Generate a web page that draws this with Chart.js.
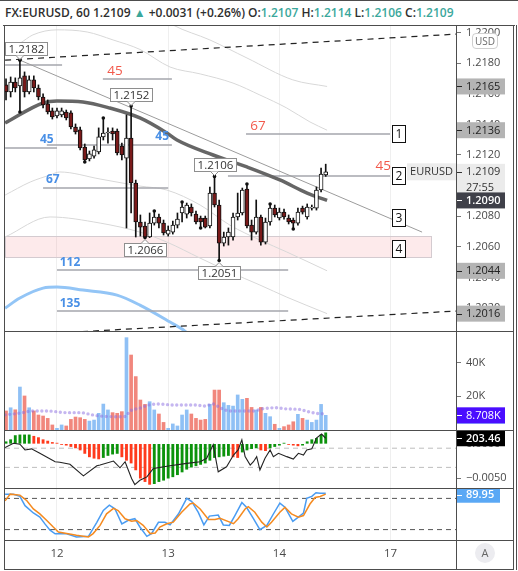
<!DOCTYPE html>
<html>
<head>
<meta charset="utf-8">
<title>FX:EURUSD, 60</title>
<script src="https://cdn.jsdelivr.net/npm/chart.js@4.4.1/dist/chart.umd.min.js"></script>
<style>
  body { margin: 0; background: #fff; }
  #wrap { position: relative; width: 518px; height: 571px; overflow: hidden; font-family: "Open Sans", sans-serif; }
  #wrap canvas { position: absolute; left: 0; }
  #head { position: absolute; left: 5px; top: 4px; font-size: 12px; font-weight: 600; color: #2e2e2e; white-space: nowrap; }
  #head .t { color: #3aa79b; }
  .ln { position: absolute; background: #4d4d4d; z-index: 5; }
  #usd { position: absolute; left: 472px; top: 33px; width: 24px; height: 14px; border: 1px solid #cfcfcf; border-radius: 4px; background: #fff;
         font-size: 10px; color: #6a6a6a; text-align: center; line-height: 14px; z-index: 6; }
  #auto { position: absolute; left: 475px; top: 543px; width: 20px; height: 20px; border-radius: 10px; background: #ececf0;
          font-size: 11px; color: #666; text-align: center; line-height: 20px; z-index: 6; }
</style>
</head>
<body>
<div id="wrap">
  <div id="head">FX:EURUSD, 60 1.2109 <span class="t">▲</span> +0.0031 (+0.26%) O:<span class="t">1.2107</span> H:<span class="t">1.2114</span> L:<span class="t">1.2106</span> C:<span class="t">1.2109</span></div>
  <canvas id="mainChart" width="513" height="305" style="top:26px"></canvas>
  <canvas id="volChart" width="513" height="99" style="top:331px"></canvas>
  <canvas id="macdChart" width="513" height="58" style="top:430px"></canvas>
  <canvas id="stochChart" width="513" height="80" style="top:488px"></canvas>
  <div class="ln" style="left:0;top:0;width:518px;height:1px"></div>
  <div class="ln" style="left:3px;top:25px;width:512px;height:1px"></div>
  <div class="ln" style="left:4px;top:25px;width:1px;height:545px"></div>
  <div class="ln" style="left:513px;top:25px;width:1px;height:545px"></div>
  <div class="ln" style="left:516px;top:25px;width:1px;height:545px"></div>
  <div class="ln" style="left:456px;top:25px;width:1px;height:545px"></div>
  <div class="ln" style="left:4px;top:331px;width:510px;height:1px"></div>
  <div class="ln" style="left:4px;top:430px;width:510px;height:1px"></div>
  <div class="ln" style="left:4px;top:488px;width:510px;height:1px"></div>
  <div class="ln" style="left:4px;top:540px;width:510px;height:1px"></div>
  <div class="ln" style="left:4px;top:569px;width:510px;height:1px"></div>
  <div id="usd">USD</div>
  <div id="auto">A</div>
</div>
<script>
// hourly bars, index 0 = day 12 00:00
const hours = [];
for (let h = -11; h <= 58; h++) hours.push(h);
const xMin = -11.22, xMax = 86.12;
const dayTicks = [0, 24, 48, 72];
const dayLabels = ["12", "13", "14", "17"];
const priceTicks = [1.2020, 1.2040, 1.2060, 1.2080, 1.2100, 1.2120, 1.2140, 1.2160, 1.2180, 1.2200];

const openP = [
  1.21658, 1.21612, 1.21677, 1.21651, 1.21717, 1.21612, 1.21691, 1.21638, 1.21579, 1.21534,
  1.21488, 1.21455, 1.21462, 1.21481, 1.21475, 1.21383, 1.21364, 1.21252, 1.21174, 1.21193,
  1.21220, 1.21318, 1.21344, 1.21357, 1.21357, 1.21259, 1.21180, 1.21311, 1.21017, 1.20762,
  1.20736, 1.20664, 1.20755, 1.20795, 1.20755, 1.20683, 1.20696, 1.20742, 1.20821, 1.20814,
  1.20860, 1.20814, 1.20788, 1.20788, 1.20736, 1.20951, 1.20873, 1.20624, 1.20664, 1.20664,
  1.20795, 1.20821, 1.20978, 1.20742, 1.20696, 1.20795, 1.20631, 1.20762, 1.20853, 1.20788,
  1.20827, 1.20788, 1.20775, 1.20755, 1.20853, 1.20795, 1.20853, 1.20853, 1.20971, 1.21070
];
const highP = [
  1.21697, 1.21710, 1.21704, 1.21820, 1.21743, 1.21717, 1.21717, 1.21658, 1.21599, 1.21560,
  1.21507, 1.21507, 1.21507, 1.21494, 1.21488, 1.21403, 1.21383, 1.21272, 1.21226, 1.21259,
  1.21377, 1.21442, 1.21377, 1.21377, 1.21370, 1.21278, 1.21462, 1.21520, 1.21036, 1.20808,
  1.20762, 1.20821, 1.20834, 1.20814, 1.20775, 1.20736, 1.20768, 1.20821, 1.20893, 1.20886,
  1.20880, 1.20834, 1.20801, 1.20801, 1.20991, 1.21060, 1.20906, 1.20696, 1.20723, 1.20821,
  1.20951, 1.20984, 1.21010, 1.20775, 1.20906, 1.20808, 1.20788, 1.20880, 1.20873, 1.20853,
  1.20847, 1.20808, 1.20788, 1.20853, 1.20866, 1.20880, 1.20873, 1.20991, 1.21115, 1.21140
];
const lowP = [
  1.21560, 1.21579, 1.21612, 1.21481, 1.21579, 1.21599, 1.21612, 1.21560, 1.21507, 1.21468,
  1.21435, 1.21442, 1.21449, 1.21429, 1.21370, 1.21337, 1.21233, 1.21154, 1.21161, 1.21180,
  1.21207, 1.21298, 1.21278, 1.21298, 1.21200, 1.21167, 1.20723, 1.20821, 1.20664, 1.20670,
  1.20660, 1.20660, 1.20742, 1.20723, 1.20677, 1.20670, 1.20683, 1.20723, 1.20762, 1.20788,
  1.20801, 1.20749, 1.20723, 1.20723, 1.20723, 1.20860, 1.20510, 1.20605, 1.20611, 1.20644,
  1.20775, 1.20808, 1.20723, 1.20644, 1.20683, 1.20611, 1.20618, 1.20742, 1.20795, 1.20775,
  1.20781, 1.20749, 1.20716, 1.20742, 1.20814, 1.20781, 1.20840, 1.20840, 1.20958, 1.21060
];
const closeP = [
  1.21612, 1.21677, 1.21638, 1.21704, 1.21612, 1.21691, 1.21638, 1.21579, 1.21527, 1.21481,
  1.21449, 1.21488, 1.21488, 1.21442, 1.21383, 1.21350, 1.21246, 1.21167, 1.21207, 1.21233,
  1.21318, 1.21344, 1.21350, 1.21337, 1.21213, 1.21200, 1.21311, 1.21017, 1.20762, 1.20729,
  1.20664, 1.20755, 1.20795, 1.20755, 1.20690, 1.20709, 1.20742, 1.20781, 1.20860, 1.20873,
  1.20821, 1.20762, 1.20762, 1.20729, 1.20951, 1.20873, 1.20624, 1.20664, 1.20696, 1.20795,
  1.20821, 1.20971, 1.20736, 1.20696, 1.20795, 1.20631, 1.20762, 1.20853, 1.20808, 1.20827,
  1.20795, 1.20762, 1.20755, 1.20827, 1.20827, 1.20860, 1.20860, 1.20971, 1.21076, 1.21090
];
const pivotHighs = [-8, 10, 16, 21, 27, 34, 41, 46];
const pivotLows = [-8, 6, 19, 31, 35, 51];
const pivotLabels = [[-8, "high"], [16, "high"], [34, "high"], [19, "low"], [35, "low"]];

// moving average and bands, read at chosen bars
const maLine = [[-11.2, 1.21409], [-3, 1.21540], [0, 1.21553], [5.6, 1.21547], [11.4, 1.21507], [17.9, 1.21442],
  [23.7, 1.21344], [25.9, 1.21298], [33.7, 1.21200], [41, 1.21122], [48.1, 1.21037], [54, 1.20951], [58.3, 1.20903]];
const bandOuterUp = [[-11.2, 1.22155], [-1.5, 1.22286], [9.3, 1.22273], [17.9, 1.22194], [25, 1.22050], [33, 1.21952],
  [41, 1.21834], [50.9, 1.21691], [58.3, 1.21648]];
const bandInnerUp = [[-11.2, 1.21880], [-8, 1.21930], [-5.2, 1.21985], [0, 1.22018], [6.5, 1.22004], [12.1, 1.21952],
  [17.9, 1.21890], [24.4, 1.21775], [30.9, 1.21730], [38, 1.21670], [43.8, 1.21592], [49.6, 1.21507], [54.6, 1.21416], [58.3, 1.21362]];
const bandInnerDown = [[-11.2, 1.20938], [-5.8, 1.21023], [-1.5, 1.21069], [0.6, 1.21089], [9.3, 1.21043], [17.9, 1.20997],
  [23.7, 1.20971], [30.9, 1.20873], [37.3, 1.20742], [43.8, 1.20644], [49.6, 1.20566], [58.3, 1.20443]];
const bandOuterDown = [[-11.2, 1.20664], [-1.5, 1.20795], [9.3, 1.20755], [17.9, 1.20696], [23.7, 1.20631], [30.9, 1.20526],
  [37.3, 1.20435], [43.8, 1.20350], [49.6, 1.20271], [58.3, 1.20163]];
const slowLine = [[-11.2, 1.20199], [-8, 1.20265], [-3, 1.20330], [0, 1.20337], [5.6, 1.20317], [12.95, 1.20284],
  [17.9, 1.20219], [24.4, 1.20108], [27.6, 1.20049], [30.9, 1.19957]];

// drawings on the price pane
const trendTop = [[-11.2, 1.2182], [86.12, 1.2199]];
const trendBottom = [[-11.2, 1.20018], [86.12, 1.2018]];
const trendDown = [[-8, 1.2182], [78.8, 1.20696]];
const levelSegments = [[-11.2, 1.1, 1.21789], [9.9, 24.8, 1.21697], [-11.2, 0, 1.21246], [-2.2, 24.8, 1.21265],
  [-3, 24, 1.20984], [40.8, 71.9, 1.21337], [36.9, 71.9, 1.21063], [0, 49.9, 1.20448], [0, 49.9, 1.20180]];
const levelTexts = [["45", 12.5, 1.21749, "red"], ["45", -2.2, 1.21298, "blue"], ["45", 22.7, 1.21318, "blue"],
  ["67", -0.9, 1.21037, "blue"], ["67", 43.4, 1.2139, "red"], ["45", 70.4, 1.21128, "red"],
  ["112", 2.8, 1.2050, "blue"], ["135", 2.8, 1.20232, "blue"]];
const zone = [-11.22, 80.7, 1.20670, 1.20533];
const marks = [["1", 73.8, 1.21337], ["2", 73.8, 1.21063], ["3", 73.8, 1.20788], ["4", 73.8, 1.20585]];

// volume pane (thousands)
const volumeK = [
  11.3, 13.2, 12.0, 25.5, 20.2, 13.2, 11.3, 8.9, 8.3, 6.9,
  3.0, 1.0, 3.0, 2.4, 6.3, 7.7, 7.3, 6.3, 5.3, 5.9,
  9.9, 15.4, 11.9, 10.3, 9.9, 10.9, 54.8, 44.5, 31.7, 17.8,
  15.2, 16.8, 11.9, 9.5, 4.5, 1.0, 3.6, 2.4, 8.9, 11.9,
  9.5, 6.9, 5.9, 6.3, 15.2, 23.7, 23.7, 16.2, 14.6, 14.2,
  20.8, 18.2, 18.8, 13.4, 11.9, 13.4, 9.9, 7.9, 3.4, 1.0,
  2.0, 3.0, 4.9, 9.3, 6.9, 5.9, 4.5, 5.9, 15.2, 8.708
];
const volumeAvgK = [[-11.2, 9.0], [-8, 10.0], [-5.1, 11.3], [-2.2, 11.3], [2.1, 10.3], [5, 10.3], [7.8, 8.9], [9.3, 8.3],
  [12.9, 7.9], [14.7, 8.0], [15.8, 11.3], [17.9, 13.0], [19.7, 14.8], [22.2, 15.4], [25.1, 14.8], [30.1, 14.8],
  [31.9, 14.2], [33.7, 15.4], [35.2, 13.2], [37.3, 11.3], [42.4, 11.3], [44.2, 12.5], [47.4, 13.2], [49.6, 12.5],
  [52.4, 12.2], [54.2, 10.9], [56, 9.9], [57.8, 9.5]];
const volTicks = [20, 40];

// oscillator pane: histogram and CCI
const histVals = [
  0.0003, 0.0006, 0.0012, 0.0013, 0.0013, 0.0013, 0.0011, 0.0009, 0.0006, 0.0004,
  0.0002, 0.0001, -0.0001, -0.0002, -0.0004, -0.0006, -0.0009, -0.0014, -0.0019, -0.0021,
  -0.0022, -0.0020, -0.0017, -0.0015, -0.0014, -0.0019, -0.0024, -0.0028, -0.0038, -0.0050,
  -0.0055, -0.0059, -0.0058, -0.0055, -0.0053, -0.0050, -0.0048, -0.0045, -0.0041, -0.0037,
  -0.0034, -0.0032, -0.0030, -0.0028, -0.0024, -0.0020, -0.0019, -0.0018, -0.0017, -0.0019,
  -0.0020, -0.0012, -0.0009, -0.0007, -0.0006, -0.0009, -0.0010, -0.0006, -0.0004, -0.0002,
  0.0001, -0.0001, -0.0002, -0.0003, -0.0002, 0.0003, 0.0006, 0.0008, 0.0013, 0.0016
];
const histTicks = [-0.005, 0];
const cciLine = [[-11.2, 106], [-9.4, 152], [-8, 142], [-6.9, 82], [-5.5, 93], [-3.7, 47], [-0.4, -41], [0.6, -47],
  [2.8, -68], [5.7, -188], [8.6, -83], [9.3, -76], [12.2, -34], [13.6, -104], [14.7, -41], [16.1, -216], [16.8, -279],
  [17.9, -234], [19.4, -199], [20.8, -111], [24.4, -83], [28, -58], [30.9, -41], [32.3, -5], [33.7, 135], [34.8, -146],
  [36.6, -94], [38.1, 29], [39.1, 82], [39.9, 187], [40.6, 12], [41.7, -76], [42.4, -41], [43.1, 12], [43.8, -128],
  [44.9, -5], [46, 82], [46.7, 12], [47.8, 47], [49.6, 12], [51, -13], [52.1, 47], [53.2, 29], [53.9, 82], [55, 93],
  [56, 205], [57.1, 247], [58, 203.46]];
const cciLevels = [100, -100];

// stochastic pane
const stochK = [[-11.2, 88], [-9.4, 88], [-8, 84], [-6.9, 66], [-5.1, 52], [-3.7, 44], [-2.6, 31], [-1.5, 19], [-0.4, 12],
  [2.1, 12], [4.2, 6], [6.8, 7], [8.6, 34], [10, 57], [11.3, 67], [12.5, 60], [14, 31], [15.4, 38], [16.8, 41], [17.9, 25],
  [19.4, 7], [20.4, 12], [21.9, 34], [23.3, 34], [24.4, 29], [26.2, 50], [28, 80], [29.1, 74], [30.5, 53], [31.7, 29],
  [32.9, 46], [34.8, 48], [35.9, 29], [37.2, 28], [38.4, 47], [39.9, 72], [40.9, 63], [42.4, 41], [43.8, 20], [45.3, 28],
  [46.7, 50], [48.1, 71], [49.2, 63], [50.9, 36], [52.1, 44], [53.2, 52], [53.9, 80], [55, 84], [55.9, 91], [56.8, 90],
  [58, 89.95]];
const stochD = [[-11.2, 75.5], [-10.1, 88.2], [-8, 86.3], [-6.5, 75.5], [-5.1, 59.7], [-3.7, 50.3], [-2.2, 37.6],
  [-0.8, 24.9], [0.3, 15.4], [2.1, 12.3], [4.2, 9.1], [6.8, 5.9], [7.8, 12.3], [9.3, 28.1], [10.7, 50.3], [12.2, 60.9],
  [13.2, 56.5], [14.7, 40.8], [16.1, 36.2], [17.2, 37.6], [18.6, 28.1], [20.1, 12.3], [21.2, 13.5], [22.2, 24.9],
  [23.7, 31.3], [25.1, 34.3], [26.9, 53.3], [28.7, 69.2], [29.4, 71.1], [30.9, 59.7], [32.7, 39.5], [34.1, 39.5],
  [35.2, 41.9], [37.3, 34.3], [38.1, 31.3], [39.1, 40.8], [40.6, 59.7], [41.3, 64.1], [42.7, 53.3], [44.2, 34.3],
  [45.3, 24.9], [46.3, 34.3], [48.1, 53.3], [49.2, 62.8], [50.6, 50.3], [52.1, 43.8], [53.2, 47.1], [54.6, 69.2],
  [55.7, 81.8], [56.8, 83.7], [58, 88.2]];
const stochLevels = [80, 20];

Chart.defaults.font.family = '"Open Sans", sans-serif';
Chart.defaults.animation = false;

const pts = arr => arr.map(p => ({ x: p[0], y: p[1] }));
const flat = v => [{ x: xMin, y: v }, { x: xMax, y: v }];
const isUp = hours.map((h, k) => closeP[k] >= openP[k]);
const last = arr => arr[arr.length - 1][1];

function xAxis(showLabels) {
  return {
    type: "linear", min: xMin, max: xMax, bounds: "data", offset: false,
    afterBuildTicks: s => { s.ticks = dayTicks.map(v => ({ value: v })); },
    afterFit: s => { s.height = showLabels ? 28 : 0; s.paddingLeft = 0; s.paddingRight = 0; },
    grid: { color: "#efefef", drawTicks: false, offset: false },
    border: { display: false },
    ticks: {
      display: showLabels, color: "#4a4a4a", padding: 7, font: { size: 11.5 },
      callback: v => dayLabels[dayTicks.indexOf(v)]
    }
  };
}
function rightAxis(extra) {
  return Object.assign({
    position: "right", bounds: "data",
    // fixed axis width, and no extra room for the end labels so panes keep their exact height
    afterFit: s => { s.width = 57; s.paddingTop = 0; s.paddingBottom = 0; },
    border: { display: false },
    grid: { drawOnChartArea: false, tickLength: 5, color: "#777" },
    ticks: { color: "#4a4a4a", padding: 5, font: { size: 11 } }
  }, extra);
}
const baseOptions = {
  responsive: false,
  animation: false,
  layout: { autoPadding: false, padding: { left: 5, right: 0, top: 0, bottom: 0 } },
  plugins: { legend: { display: false }, tooltip: { enabled: false } }
};

function axisTag(ctx, a, yPix, lines, bg, fg, weight, w) {
  const x0 = a.right + 1;
  ctx.fillStyle = bg;
  ctx.fillRect(x0, yPix - 8, w || 48, 16 * lines.length);
  ctx.strokeStyle = fg;
  ctx.lineWidth = 1;
  ctx.beginPath();
  ctx.moveTo(x0, Math.round(yPix) + 0.5);
  ctx.lineTo(x0 + 5, Math.round(yPix) + 0.5);
  ctx.stroke();
  ctx.fillStyle = fg;
  ctx.font = (weight || "400") + ' 11px "Open Sans"';
  ctx.textAlign = "left";
  ctx.textBaseline = "middle";
  lines.forEach((t, k) => ctx.fillText(t, x0 + 9, yPix + 16 * k + 0.5));
}

// price pane drawings
const priceOverlay = {
  id: "priceOverlay",
  beforeDatasetsDraw(chart) {
    const { ctx, scales: { x, y } } = chart;
    const x0 = x.getPixelForValue(zone[0]), x1 = x.getPixelForValue(zone[1]);
    const y0 = y.getPixelForValue(zone[2]), y1 = y.getPixelForValue(zone[3]);
    ctx.save();
    ctx.fillStyle = "rgba(242,90,100,0.13)";
    ctx.fillRect(x0, y0, x1 - x0, y1 - y0);
    ctx.strokeStyle = "#d4cbd0";
    ctx.lineWidth = 1;
    ctx.strokeRect(Math.round(x0) + 0.5, Math.round(y0) + 0.5, Math.round(x1 - x0), Math.round(y1 - y0));
    ctx.restore();
  },
  afterDatasetsDraw(chart) {
    const { ctx, chartArea: a, scales: { x, y } } = chart;
    ctx.save();
    // level numbers
    levelTexts.forEach(([t, i, p, c]) => {
      ctx.font = c === "blue" ? '700 12px "Open Sans"' : '400 13.5px "Open Sans"';
      ctx.fillStyle = c === "blue" ? "#4a90e6" : "#f2594b";
      ctx.textAlign = "center";
      ctx.textBaseline = "middle";
      ctx.fillText(t, x.getPixelForValue(i), y.getPixelForValue(p));
    });
    // pivot price labels
    ctx.font = '400 11.5px "Open Sans"';
    pivotLabels.forEach(([i, kind]) => {
      const k = hours.indexOf(i);
      const v = kind === "high" ? highP[k] : lowP[k];
      const t = v.toFixed(4);
      const px = x.getPixelForValue(i), py = y.getPixelForValue(v);
      const w = Math.round(ctx.measureText(t).width + 6), h = 13;
      const bx = Math.round(Math.max(a.left, Math.min(a.right - w, px - w / 2))) + 0.5;
      const by = Math.round(kind === "high" ? py - 5 - h : py + 5) + 0.5;
      const ty = kind === "high" ? by + h : by;
      const dir = kind === "high" ? 1 : -1;
      ctx.fillStyle = "#fff";
      ctx.strokeStyle = "#8e8e8e";
      ctx.lineWidth = 1;
      ctx.fillRect(bx, by, w, h);
      ctx.strokeRect(bx, by, w, h);
      ctx.beginPath();
      ctx.moveTo(px - 4, ty);
      ctx.lineTo(px, ty + dir * 4);
      ctx.lineTo(px + 4, ty);
      ctx.fill();
      ctx.stroke();
      ctx.fillStyle = "#333";
      ctx.textAlign = "center";
      ctx.textBaseline = "middle";
      ctx.fillText(t, bx + w / 2, by + h / 2 + 0.5);
    });
    // numbered marks
    marks.forEach(([t, i, p]) => {
      const cx = Math.round(x.getPixelForValue(i)), cy = Math.round(y.getPixelForValue(p));
      ctx.fillStyle = "#fff";
      ctx.fillRect(cx - 6.5, cy - 8.5, 13, 17);
      ctx.strokeStyle = "#111";
      ctx.strokeRect(cx - 6.5, cy - 8.5, 13, 17);
      ctx.fillStyle = "#111";
      ctx.font = '400 12px "Open Sans"';
      ctx.textAlign = "center";
      ctx.textBaseline = "middle";
      ctx.fillText(t, cx, cy + 0.5);
    });
    // symbol tag on the last price
    const lastClose = closeP[closeP.length - 1];
    const ly = y.getPixelForValue(lastClose);
    ctx.fillStyle = "#ececec";
    ctx.fillRect(a.right - 49, ly - 8.5, 49, 17);
    ctx.fillStyle = "#333";
    ctx.font = '400 11px "Open Sans"';
    ctx.textAlign = "center";
    ctx.fillText("EURUSD", a.right - 24.5, ly + 0.5);
    // axis tags
    const gray = "#b4b4b4";
    axisTag(ctx, a, y.getPixelForValue(last(bandOuterUp)), [last(bandOuterUp).toFixed(4)], gray, "#222");
    axisTag(ctx, a, y.getPixelForValue(last(bandInnerUp)), [last(bandInnerUp).toFixed(4)], gray, "#222");
    axisTag(ctx, a, y.getPixelForValue(last(bandInnerDown)), [last(bandInnerDown).toFixed(4)], gray, "#222");
    axisTag(ctx, a, y.getPixelForValue(last(bandOuterDown)), [last(bandOuterDown).toFixed(4)], gray, "#222");
    axisTag(ctx, a, ly, [lastClose.toFixed(4), "27:55"], "#ebebeb", "#333");
    axisTag(ctx, a, y.getPixelForValue(last(maLine)), [last(maLine).toFixed(4)], "#3f4049", "#fff", "600");
    ctx.restore();
  }
};

const lineDs = (data, color, width, extra) => Object.assign({
  type: "line", data: pts(data), borderColor: color, borderWidth: width,
  pointRadius: 0, fill: false, cubicInterpolationMode: "monotone", order: 5
}, extra);

const priceDatasets = [
  { type: "bar", data: hours.map((h, k) => ({ x: h, y: [openP[k], closeP[k]] })),
    backgroundColor: isUp.map(u => (u ? "#ffffff" : "#7a1a1a")), borderColor: "#111", borderWidth: 1,
    borderSkipped: false, barThickness: 4, minBarLength: 1, grouped: false, order: 0 },
  { type: "bar", data: hours.map((h, k) => ({ x: h, y: [lowP[k], highP[k]] })),
    backgroundColor: "#111", barThickness: 1, grouped: false, order: 1 },
  { type: "line", data: pivotHighs.map(i => ({ x: i, y: highP[hours.indexOf(i)] }))
      .concat(pivotLows.map(i => ({ x: i, y: lowP[hours.indexOf(i)] }))),
    showLine: false, pointRadius: 1.8, pointBackgroundColor: "#111", pointBorderWidth: 0, order: 0 },
  lineDs(maLine, "#666666", 3.5, { order: 2 }),
  lineDs(bandOuterUp, "#d8d8d8", 1),
  lineDs(bandInnerUp, "#d8d8d8", 1),
  lineDs(bandInnerDown, "#d8d8d8", 1),
  lineDs(bandOuterDown, "#d8d8d8", 1),
  lineDs(slowLine, "#93c5f6", 3),
  lineDs(trendTop, "#222", 1.2, { borderDash: [6, 5], cubicInterpolationMode: "default", order: 3 }),
  lineDs(trendBottom, "#222", 1.2, { borderDash: [6, 5], cubicInterpolationMode: "default", order: 3 }),
  lineDs(trendDown, "#9c9c9c", 1, { cubicInterpolationMode: "default", order: 3 })
].concat(levelSegments.map(s => lineDs([[s[0], s[2]], [s[1], s[2]]], "#a4a6ad", 1.5,
  { cubicInterpolationMode: "default", order: 4 })));

const yTop = 1.220431, yBottom = 1.200496;
new Chart(document.getElementById("mainChart"), {
  type: "line",
  data: { datasets: priceDatasets },
  options: Object.assign({}, baseOptions, {
    scales: {
      x: xAxis(false),
      y: rightAxis({
        type: "linear", min: yBottom, max: yTop,
        afterBuildTicks: s => { s.ticks = priceTicks.map(v => ({ value: v })); },
        ticks: { color: "#4a4a4a", padding: 5, font: { size: 11 }, callback: v => v.toFixed(4) }
      })
    }
  }),
  plugins: [priceOverlay]
});

// volume pane
new Chart(document.getElementById("volChart"), {
  type: "line",
  data: {
    datasets: [
      { type: "line", data: pts(volumeAvgK), borderColor: "rgba(140,110,225,0.5)", borderWidth: 3.4,
        borderDash: [0, 4.63], borderCapStyle: "round", pointRadius: 0, cubicInterpolationMode: "monotone", order: 0 },
      { type: "bar", data: hours.map((h, k) => ({ x: h, y: volumeK[k] })),
        backgroundColor: isUp.map(u => (u ? "#8fc0f5" : "#f1877d")), barThickness: 3, grouped: false, order: 1 }
    ]
  },
  options: Object.assign({}, baseOptions, {
    scales: {
      x: xAxis(false),
      y: rightAxis({
        type: "linear", min: 0, max: 58.75,
        afterBuildTicks: s => { s.ticks = volTicks.map(v => ({ value: v })); },
        ticks: { color: "#4a4a4a", padding: 5, font: { size: 11 }, callback: v => v + "K" }
      })
    }
  }),
  plugins: [{
    id: "volTag",
    afterDatasetsDraw(chart) {
      const { ctx, chartArea: a, scales: { y } } = chart;
      const v = volumeK[volumeK.length - 1];
      const py = y.getPixelForValue(v);
      ctx.save();
      ctx.fillStyle = "#8cb6f8";
      ctx.fillRect(a.right + 1, py + 6, 48, 2.5);
      axisTag(ctx, a, py, [v.toFixed(3) + "K"], "#4a0dff", "#fff");
      ctx.restore();
    }
  }]
});

// histogram + CCI pane
new Chart(document.getElementById("macdChart"), {
  type: "line",
  data: {
    datasets: [
      { type: "line", data: pts(cciLine), yAxisID: "y2", borderColor: "#222", borderWidth: 1.1, pointRadius: 0, order: 0 },
      { type: "line", data: flat(cciLevels[0]), yAxisID: "y2", borderColor: "#bdbdbd", borderWidth: 1, borderDash: [5, 4], pointRadius: 0, order: 3 },
      { type: "line", data: flat(cciLevels[1]), yAxisID: "y2", borderColor: "#bdbdbd", borderWidth: 1, borderDash: [5, 4], pointRadius: 0, order: 3 },
      { type: "bar", data: hours.map((h, k) => ({ x: h, y: histVals[k] })), yAxisID: "y",
        backgroundColor: histVals.map((v, k) => (k === 0 || v >= histVals[k - 1] ? "#0c930c" : "#ff3a1c")),
        barThickness: 2.2, grouped: false, order: 1 }
    ]
  },
  options: Object.assign({}, baseOptions, {
    scales: {
      x: xAxis(false),
      y: rightAxis({
        type: "linear", min: -0.00643, max: 0.00201,
        afterBuildTicks: s => { s.ticks = histTicks.map(v => ({ value: v })); },
        ticks: { color: "#4a4a4a", padding: 5, font: { size: 11 },
          callback: v => (v < 0 ? "\u2212" : "") + Math.abs(v).toFixed(4) }
      }),
      y2: { type: "linear", display: false, min: -314.7, max: 289.5, bounds: "data" }
    }
  }),
  plugins: [{
    id: "cciTag",
    afterDatasetsDraw(chart) {
      const { ctx, chartArea: a, scales: { y2 } } = chart;
      const v = last(cciLine);
      ctx.save();
      axisTag(ctx, a, y2.getPixelForValue(v), [v.toFixed(2)], "#000", "#fff", "600");
      ctx.restore();
    }
  }]
});

// stochastic pane with date axis
new Chart(document.getElementById("stochChart"), {
  type: "line",
  data: {
    datasets: [
      { data: pts(stochK), borderColor: "#4a9cf2", borderWidth: 1.5, pointRadius: 0, order: 1 },
      { data: pts(stochD), borderColor: "#f58a1f", borderWidth: 1.5, pointRadius: 0, order: 0 },
      { data: flat(stochLevels[0]), borderColor: "#555", borderWidth: 1, borderDash: [5, 4], pointRadius: 0, order: 3 },
      { data: flat(stochLevels[1]), borderColor: "#555", borderWidth: 1, borderDash: [5, 4], pointRadius: 0, order: 3 }
    ]
  },
  options: Object.assign({}, baseOptions, {
    scales: {
      x: xAxis(true),
      y: rightAxis({ type: "linear", min: 0, max: 100, grid: { display: false }, ticks: { display: false } })
    }
  }),
  plugins: [{
    id: "stochTag",
    afterDatasetsDraw(chart) {
      const { ctx, chartArea: a, scales: { y } } = chart;
      const v = last(stochK);
      ctx.save();
      axisTag(ctx, a, y.getPixelForValue(v) + 1.5, [v.toFixed(2)], "#5aa8f5", "#fff", "600", 43);
      ctx.restore();
    }
  }]
});
</script>
</body>
</html>
